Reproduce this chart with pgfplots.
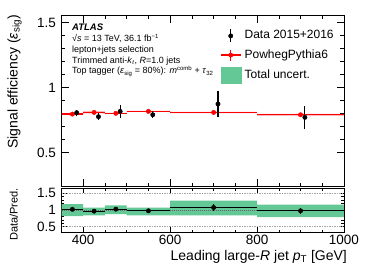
\documentclass[border=0pt]{standalone}
\usepackage{fontspec}
\setmainfont{Liberation Sans}
\usepackage{pgfplots}
\usepackage{pgfplotstable}
\pgfplotsset{compat=1.18}
\usepgfplotslibrary{fillbetween}

\definecolor{mcred}{RGB}{255,0,0}
\definecolor{mcband}{RGB}{255,145,145}
\definecolor{unc}{RGB}{100,200,150}

% data points (main panel): bin centre, displayed x, efficiency, error
\pgfplotstableread{
x xd y ey
375 385 0.808 0.023
425 435 0.777 0.025
475 485 0.818 0.050
550 560 0.792 0.028
700 710 0.875 0.100
900 910 0.772 0.090
}\datatab

% MC prediction: centre, half width, efficiency
\pgfplotstableread{
x ex y
375 25 0.797
425 25 0.810
475 25 0.803
550 50 0.818
700 100 0.810
900 100 0.792
}\mctab

% MC band edges (const plot, left edges)
\pgfplotstableread{
x lo hi
350 0.793 0.801
400 0.803 0.817
450 0.799 0.807
500 0.814 0.822
600 0.805 0.815
800 0.785 0.799
1000 0.785 0.799
}\mcbandtab

% ratio
\pgfplotstableread{
x ex r er
375 25 1.020 0.030
425 25 0.965 0.030
475 25 1.025 0.040
550 50 0.975 0.030
700 100 1.075 0.110
900 100 0.975 0.090
}\ratiotab

% total uncertainty band edges (const plot, left edges)
\pgfplotstableread{
x lo hi
350 0.82 1.18
400 0.84 1.07
450 0.88 1.14
500 0.84 1.07
600 0.84 1.28
800 0.79 1.16
1000 0.79 1.16
}\unctab

\begin{document}
\begin{tikzpicture}

\begin{axis}[
  at={(61.5pt,81.5pt)}, anchor=south west, scale only axis,
  width=282.5pt, height=170.8pt,
  xmin=350, xmax=1000, ymin=0.24, ymax=1.554,
  xtick={400,600,800,1000}, minor x tick num=3, xticklabels={},
  ytick={0.5,1,1.5}, minor y tick num=4,
  tick align=inside, xtick pos=both, ytick pos=both,
  major tick length=7pt, minor tick length=3.5pt,
  tick style={black, line width=0.5pt},
  axis line style={line width=0.6pt},
  /pgf/number format/assume math mode=true,
  yticklabel style={font=\fontsize{13.5}{14}\selectfont, xshift=-2pt},
  legend style={at={(rel axis cs:0.561,0.9245)}, anchor=north west, draw=none, fill=none,
    inner sep=0pt, row sep=6pt, column sep=3.3pt, font=\fontsize{12}{14}\selectfont,
    nodes={inner sep=0pt, text height=9pt, text depth=3pt}},
  legend cell align=left,
]
\addlegendimage{legend image code/.code={
  \draw[black, line width=1.2pt] (0.35cm,-6.5pt)--(0.35cm,6.5pt);
  \fill[black] (0.35cm,0pt) circle (2.2pt);}}
\addlegendentry{Data 2015+2016}
\addlegendimage{legend image code/.code={
  \draw[mcred, line width=1.2pt] (0cm,0pt)--(0.7cm,0pt);
  \draw[mcred, line width=1.2pt] (0.35cm,-5.5pt)--(0.35cm,5.5pt);
  \fill[mcred] (0.35cm,0pt) circle (2.2pt);}}
\addlegendentry{PowhegPythia6}
\addlegendimage{legend image code/.code={
  \fill[unc] (0cm,-7.8pt) rectangle (0.7cm,7.8pt);}}
\addlegendentry{Total uncert.}

\addplot[name path=mclo, const plot, draw=none, forget plot] table[x=x, y=lo]{\mcbandtab};
\addplot[name path=mchi, const plot, draw=none, forget plot] table[x=x, y=hi]{\mcbandtab};
\addplot[mcband, forget plot] fill between[of=mchi and mclo];

\addplot[mcred, only marks, mark=*, mark size=2.2pt, forget plot,
  error bars/.cd, x dir=both, x explicit, error mark=none,
  error bar style={line width=1.2pt, mcred}]
  table[x=x, y=y, x error=ex]{\mctab};

\addplot[black, only marks, mark=*, mark size=2.2pt, forget plot,
  error bars/.cd, y dir=both, y explicit, error mark=none,
  error bar style={line width=1.2pt, black}]
  table[x=xd, y=y, y error=ey]{\datatab};
\end{axis}

\begin{axis}[
  at={(61.5pt,36pt)}, anchor=south west, scale only axis,
  width=282.5pt, height=44pt,
  xmin=350, xmax=1000, ymin=0.34, ymax=1.66,
  xtick={400,600,800,1000}, minor x tick num=3,
  ytick={0.5,1,1.5}, minor y tick num=4,
  tick align=inside, xtick pos=both, ytick pos=both,
  major tick length=5pt, minor tick length=2.5pt,
  tick style={black, line width=0.5pt},
  axis line style={line width=0.6pt},
  /pgf/number format/assume math mode=true,
  /pgf/number format/1000 sep={},
  yticklabel style={font=\fontsize{13.5}{14}\selectfont, xshift=-2pt},
  xticklabel style={font=\fontsize{13.5}{14}\selectfont},
]
\addplot[gray!70, densely dotted, line width=1.5pt] coordinates {(350,1.5) (1000,1.5)};
\addplot[gray!70, densely dotted, line width=1.5pt] coordinates {(350,0.5) (1000,0.5)};
\addplot[name path=ulo, const plot, draw=none] table[x=x, y=lo]{\unctab};
\addplot[name path=uhi, const plot, draw=none] table[x=x, y=hi]{\unctab};
\addplot[unc] fill between[of=uhi and ulo];
\addplot[black!60, densely dotted, line width=1pt] coordinates {(350,1) (1000,1)};
\addplot[black, only marks, mark=*, mark size=2.2pt,
  error bars/.cd, x dir=both, x explicit, y dir=both, y explicit, error mark=none,
  error bar style={line width=1.2pt, black}]
  table[x=x, y=r, x error=ex, y error=er]{\ratiotab};
\end{axis}

\node[anchor=base west, inner sep=0pt] at (72pt,237pt) {\fontsize{9.5}{11}\selectfont\bfseries\itshape ATLAS};
\node[anchor=base west, inner sep=0pt] at (72pt,226pt) {\fontsize{9}{11}\selectfont √\textit{s} = 13 TeV, 36.1 fb\textsuperscript{−1}};
\node[anchor=base west, inner sep=0pt] at (72pt,215pt) {\fontsize{9}{11}\selectfont lepton+jets selection};
\node[anchor=base west, inner sep=0pt] at (72pt,204.5pt) {\fontsize{9}{11}\selectfont Trimmed anti-\textit{k}\textsubscript{\textit{t}}, \textit{R}=1.0 jets};
\node[anchor=base west, inner sep=0pt] at (72pt,194pt) {\fontsize{9}{11}\selectfont Top tagger (\textit{ε}\textsubscript{sig} = 80\%): \textit{m}\textsuperscript{comb} + \textit{τ}\textsubscript{32}};

\node[anchor=base east, inner sep=0pt] at (347pt,8pt) {\fontsize{14}{16}\selectfont Leading large-\textit{R} jet \textit{p}\textsubscript{T} [GeV]};
\node[rotate=90, anchor=base east, inner sep=0pt] at (17.5pt,253pt) {\fontsize{14}{16}\selectfont Signal efficiency (\textit{ε}\textsubscript{sig})};
\node[rotate=90, anchor=base east, inner sep=0pt] at (17.5pt,80pt) {\fontsize{11}{13}\selectfont Data/Pred.};

\pgfresetboundingbox
\path[use as bounding box] (0,0) rectangle (374pt,268pt);
\end{tikzpicture}
\end{document}
